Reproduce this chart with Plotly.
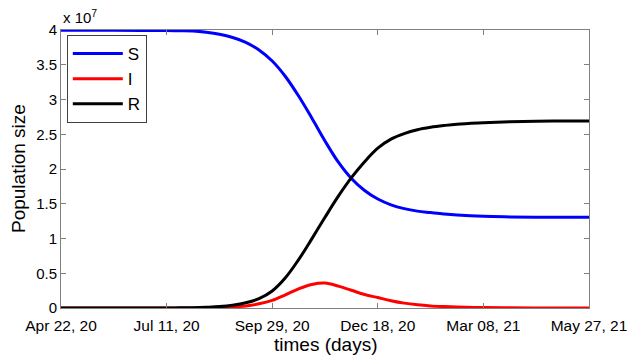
import pandas as pd
import plotly.graph_objects as go

# Days since the start date and compartment sizes (units of 10^7 people)
start_date = "2020-04-22"
days = [0, 20, 40, 60, 80, 90, 100, 110, 120, 130, 140, 150, 160, 170, 180,
        190, 200, 210, 220, 230, 240, 250, 260, 270, 280, 290, 300, 320,
        340, 360, 380, 400]
S = [3.996, 3.996, 3.995, 3.994, 3.992, 3.99, 3.986, 3.967, 3.938, 3.892,
     3.823, 3.712, 3.554, 3.331, 3.050, 2.734, 2.403, 2.101, 1.863, 1.691,
     1.568, 1.485, 1.430, 1.394, 1.373, 1.353, 1.338, 1.319, 1.311, 1.306,
     1.305, 1.305]
I = [0.0, 0.0, 0.0, 0.0, 0.0, 0.0005, 0.001, 0.002, 0.006, 0.015, 0.03,
     0.06, 0.11, 0.19, 0.275, 0.338, 0.358, 0.315, 0.255, 0.195, 0.15,
     0.105, 0.07, 0.046, 0.03, 0.02, 0.013, 0.006, 0.003, 0.001, 0.0005, 0.0]
R = [0.0, 0.0, 0.0, 0.0, 0.001, 0.002, 0.005, 0.011, 0.02, 0.04, 0.075,
     0.135, 0.245, 0.435, 0.695, 0.995, 1.305, 1.605, 1.875, 2.105, 2.30,
     2.43, 2.51, 2.565, 2.60, 2.625, 2.645, 2.665, 2.68, 2.688, 2.69, 2.692]
series_names = ["S", "I", "R"]
series_colors = ["#0000ff", "#ff0000", "#000000"]
y_ticks = [0, 0.5, 1, 1.5, 2, 2.5, 3, 3.5, 4]
x_tick_days = [0, 80, 160, 240, 320, 400]

start = pd.to_datetime(start_date)
dates = start + pd.to_timedelta(days, unit="D")
x_tick_dates = start + pd.to_timedelta(x_tick_days, unit="D")
x_tick_text = [d.strftime("%b %d, %y") for d in x_tick_dates]

fig = go.Figure()
for name, vals, col in zip(series_names, [S, I, R], series_colors):
    fig.add_trace(go.Scatter(
        x=dates, y=vals, name=name, mode="lines",
        line=dict(color=col, width=3, shape="spline", smoothing=1.0),
    ))

axis_col = "#808080"
font_fam = "Liberation Sans, Arial, sans-serif"

fig.update_layout(
    width=627, height=358,
    margin=dict(l=61, r=38, t=30, b=50),
    paper_bgcolor="white", plot_bgcolor="white",
    font=dict(family=font_fam, color="black", size=15),
    showlegend=True,
    legend=dict(
        x=0.011, y=0.982, xanchor="left", yanchor="top",
        bordercolor="#404040", borderwidth=1, bgcolor="white",
        font=dict(size=17, family=font_fam),
        itemwidth=50, tracegroupgap=0,
    ),
    xaxis=dict(
        range=[x_tick_dates[0], x_tick_dates[-1]],
        tickvals=x_tick_dates, ticktext=x_tick_text,
        ticks="inside", ticklen=5, tickcolor=axis_col,
        showline=True, linecolor=axis_col, linewidth=1, mirror="ticks",
        showgrid=False, zeroline=False, automargin=False,
        ticklabeloverflow="allow", ticklabelstandoff=3,
        tickfont=dict(size=15.5),
    ),
    yaxis=dict(
        range=[0, 4],
        tickvals=y_ticks,
        ticks="inside", ticklen=5, tickcolor=axis_col,
        showline=True, linecolor=axis_col, linewidth=1, mirror="ticks",
        showgrid=False, zeroline=False, automargin=False,
        tickfont=dict(size=15),
    ),
)

# axis titles
fig.add_annotation(
    text="times (days)", xref="paper", yref="paper",
    x=0.5, y=-0.133, xanchor="center", yanchor="middle",
    showarrow=False, font=dict(size=19, family=font_fam),
)
fig.add_annotation(
    text="Population size", xref="paper", yref="paper",
    x=-0.0814, y=0.5, xanchor="center", yanchor="middle", textangle=-90,
    showarrow=False, font=dict(size=19, family=font_fam),
)
# scale factor for the y axis
fig.add_annotation(
    text="x 10<sup>7</sup>", xref="paper", yref="paper",
    x=0.0, y=1.0, xanchor="left", yanchor="bottom", yshift=2,
    showarrow=False, font=dict(size=15, family=font_fam),
)

fig.write_html("out.html")
